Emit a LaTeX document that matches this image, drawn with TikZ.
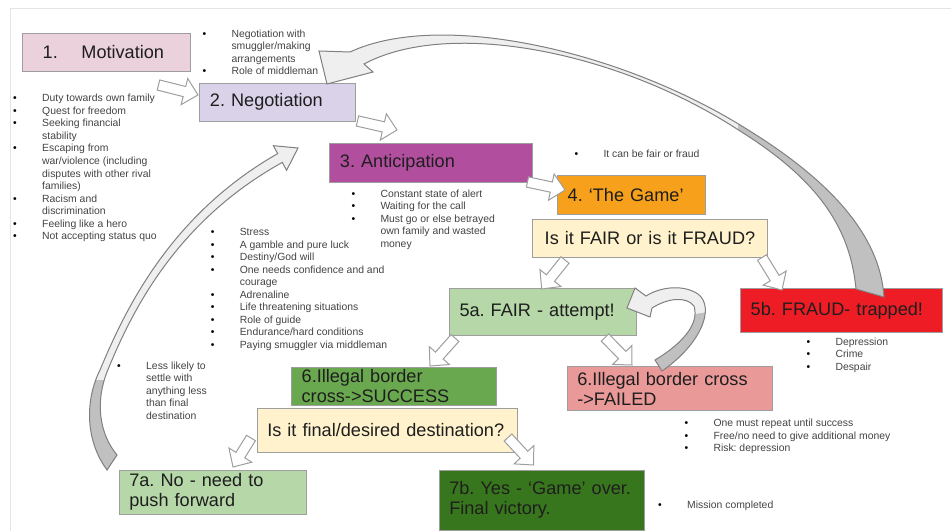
\documentclass[tikz,border=0pt]{standalone}
\usepackage{fontspec}
\setmainfont{Liberation Sans}
\usetikzlibrary{calc}
\frenchspacing

\definecolor{motpink}{HTML}{EAD1DC}
\definecolor{neglav}{HTML}{D9D2E9}
\definecolor{antmag}{HTML}{B14F9E}
\definecolor{gameorange}{HTML}{F6A01B}
\definecolor{askcream}{HTML}{FFF2CC}
\definecolor{fairgreen}{HTML}{B6D7A8}
\definecolor{fraudred}{HTML}{EE1C24}
\definecolor{succgreen}{HTML}{6AA84F}
\definecolor{failpink}{HTML}{EA9999}
\definecolor{wingreen}{HTML}{38761D}
\definecolor{boxline}{HTML}{9E9E9E}
\definecolor{boxtext}{HTML}{1E1E1E}
\definecolor{listgrey}{HTML}{434343}
\definecolor{curvelight}{HTML}{EFEFEF}
\definecolor{curvedark}{HTML}{C0C0C0}
\definecolor{curveline}{HTML}{808080}
\definecolor{framegrey}{HTML}{E4E4E4}

\newcommand{\boxfont}{\fontsize{13.6pt}{15pt}\selectfont}
\newcommand{\listfont}{\fontsize{7.8pt}{9.42pt}\selectfont}
\newcommand{\itm}{\llap{\textcolor{black}{\textbullet}\hspace{19pt}}}

% hollow block arrow from #1 (tail) to #2 (tip)
\newcommand{\hollowarr}[2]{%
  \coordinate (hb) at ($(#2)!10.5pt!(#1)$);
  \draw[hollow] ($(#1)!3.9pt!90:(#2)$) -- ($(hb)!3.9pt!-90:(#1)$) -- ($(hb)!10.1pt!-90:(#1)$) -- (#2)
    -- ($(hb)!10.1pt!90:(#1)$) -- ($(hb)!3.9pt!90:(#1)$) -- ($(#1)!3.9pt!-90:(#2)$) -- cycle;
}

\tikzset{every picture/.style={line width=0.75pt}}
\tikzset{
  stage/.style={draw=boxline, inner xsep=7.5pt, inner ysep=0pt, align=left, font=\boxfont, text=boxtext},
  blist/.style={anchor=north west, inner sep=0pt, align=left, font=\listfont, text=listgrey},
  hollow/.style={draw=boxline, fill=white, line join=miter},
  curvefill/.style={draw=curveline, line join=miter}
}

\begin{document}
\begin{tikzpicture}[x=0.75pt,y=0.75pt,yscale=-1,xscale=1]
\useasboundingbox (0,0) rectangle (951,531);

%Page edge
\draw[framegrey] (10,531) -- (10,9) -- (951,9);

%Shape: Rectangle (stages)
\node[stage, fill=motpink, text width=111pt, minimum height=28.3pt] (mot) at (106.7,52.2) {\hspace*{7.5pt}1.\hspace{17.7pt}Motivation};
\node[stage, fill=neglav, text width=101.8pt, minimum height=28.3pt] (neg) at (277.8,102.2) {2. Negotiation};
\node[stage, fill=antmag, text width=137pt, minimum height=29.3pt] (ant) at (431.3,162.8) {3. Anticipation};
\node[stage, fill=gameorange, text width=96.2pt, minimum height=29pt] (game) at (631.8,195) {4. ‘The Game’};
\node[stage, fill=askcream, text width=161.5pt, minimum height=28.5pt, align=center] (qfair) at (650,238.3) {Is it FAIR or is it FRAUD?};
\node[stage, fill=fairgreen, text width=125.4pt, minimum height=35.3pt] (fair) at (543.1,312.2) {5a. FAIR - attempt!};
\node[stage, fill=fraudred, text width=136.2pt, minimum height=33.3pt] (fraud) at (841.5,310.5) {5b. FRAUD- trapped!};
\node[stage, fill=succgreen, text width=138.8pt, minimum height=28.8pt] (succ) at (394.2,386.5) {6.Illegal border\\cross->SUCCESS};
\node[stage, fill=failpink, text width=139pt, minimum height=33.2pt] (fail) at (670,388.8) {6.Illegal border cross\\->FAILED};
\node[stage, fill=askcream, text width=180.3pt, minimum height=33pt] (qdest) at (387.5,430.3) {Is it final/desired destination?};
\node[stage, fill=fairgreen, text width=125.5pt, minimum height=33.2pt] (push) at (213,492.2) {7a. No - need to\\push forward};
\node[stage, fill=wingreen, text width=138.8pt, minimum height=45pt] (win) at (541.8,500) {7b. Yes - ‘Game’ over.\\Final victory.};

% Text Node
\node[blist] (negList) at (231,29) {\itm Negotiation with\\smuggler/making\\arrangements\\\itm Role of middleman};
% Text Node
\node[blist] (motList) at (41.7,93.7) {\itm Duty towards own family\\\itm Quest for freedom\\\itm Seeking financial\\stability\\\itm Escaping from\\war/violence (including\\disputes with other rival\\families)\\\itm Racism and\\discrimination\\\itm Feeling like a hero\\\itm Not accepting status quo};
% Text Node
\node[blist] (antList) at (380,189) {\itm Constant state of alert\\\itm Waiting for the call\\\itm Must go or else betrayed\\own family and wasted\\money};
% Text Node
\node[blist] (gameList) at (603,149.3) {\itm It can be fair or fraud};
% Text Node
\node[blist] (stressList) at (239.3,227.7) {\itm Stress\\\itm A gamble and pure luck\\\itm Destiny/God will\\\itm One needs confidence and and\\courage\\\itm Adrenaline\\\itm Life threatening situations\\\itm Role of guide\\\itm Endurance/hard conditions\\\itm Paying smuggler via middleman};
% Text Node
\node[blist] (lessList) at (145.7,361) {\itm Less likely to\\settle with\\anything less\\than final\\destination};
% Text Node
\node[blist] (fraudList) at (835,337) {\itm Depression\\\itm Crime\\\itm Despair};
% Text Node
\node[blist] (failList) at (713,418.7) {\itm One must repeat until success\\\itm Free/no need to give additional money\\\itm Risk: depression};
% Text Node
\node[blist] (victList) at (686.7,500) {\itm Mission completed};

%Block arrows (ends)
\coordinate (m2t) at (158.5,85);   \coordinate (m2h) at (198,95);
\coordinate (n3t) at (357.5,121);  \coordinate (n3h) at (397,130);
\coordinate (a4t) at (527.5,182);  \coordinate (a4h) at (565,190);
\coordinate (qat) at (565,260);    \coordinate (qah) at (541.7,289);
\coordinate (qbt) at (762,257.5);  \coordinate (qbh) at (782,290);
\coordinate (fst) at (455,338);    \coordinate (fsh) at (430,366);
\coordinate (fft) at (605,337.5);  \coordinate (ffh) at (632,365);
\coordinate (dat) at (251,438);    \coordinate (dah) at (233,467);
\coordinate (dbt) at (508,437.5);  \coordinate (dbh) at (533.5,465);

\hollowarr{m2t}{m2h}
\hollowarr{n3t}{n3h}
\hollowarr{a4t}{a4h}
\hollowarr{qat}{qah}
\hollowarr{qbt}{qbh}
\hollowarr{fst}{fsh}
\hollowarr{fft}{ffh}
\hollowarr{dat}{dah}
\hollowarr{dbt}{dbh}

%Curve Arrow: 5b back to 2
\def\backloop{(884,297) .. controls (880,235) and (830,180) .. (745,128) .. controls (620,50) and (440,10) .. (350,52) -- (319,51) -- (327,84) -- (373,72) -- (364,64) .. controls (450,18) and (620,52) .. (740,131) .. controls (815,178) and (850,225) .. (856,289) -- cycle}
\fill[curvedark] \backloop;
\begin{scope}
\clip (300,0) rectangle (738,200);
\fill[curvelight] \backloop;
\end{scope}
\draw[curvefill] \backloop;

%Curve Arrow: 7a back to 3
\def\pushloop{(107,470) .. controls (85,440) and (85,400) .. (100,370) .. controls (125,310) and (170,215) .. (277.7,153.6) -- (273.4,145.7) -- (298,148) -- (286.6,170.3) -- (282.3,162.4) .. controls (175,222) and (131,313) .. (107,372) .. controls (96,400) and (98,432) .. (117,455) -- cycle}
\fill[curvedark] \pushloop;
\begin{scope}
\clip (50,100) rectangle (330,380);
\fill[curvelight] \pushloop;
\end{scope}
\draw[curvefill] \pushloop;

%Curve Arrow: failed back to 5a
\def\retryloop{(662,371) .. controls (700,345) and (716,308) .. (698,294) .. controls (683,284) and (660,287) .. (646,296) -- (635,288) -- (627,308) -- (650,317) -- (652,308) .. controls (668,298) and (686,296) .. (694,306) .. controls (700,325) and (680,345) .. (655,360) -- cycle}
\fill[curvedark] \retryloop;
\begin{scope}
\clip (600,260) -- (760,260) -- (760,303) -- (660,320) -- (600,320) -- cycle;
\fill[curvelight] \retryloop;
\end{scope}
\draw[curvefill] \retryloop;

\end{tikzpicture}
\end{document}
